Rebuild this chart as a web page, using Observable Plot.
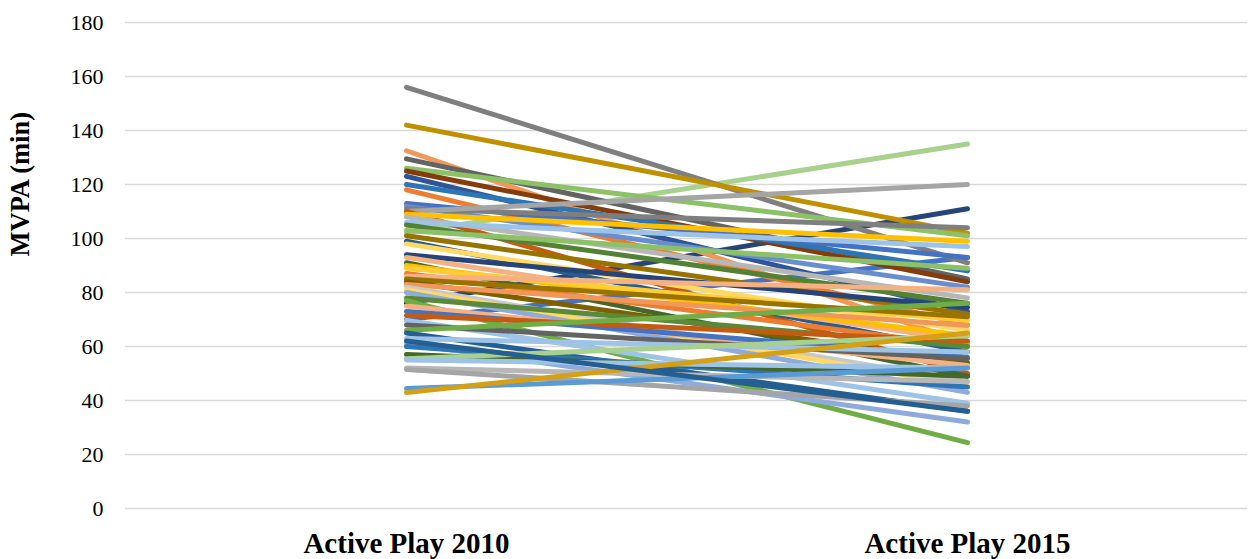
<!DOCTYPE html>
<html>
<head>
<meta charset="utf-8">
<script src="https://cdn.jsdelivr.net/npm/d3@7"></script>
<script src="https://cdn.jsdelivr.net/npm/@observablehq/plot@0.6"></script>
<style>
  html, body { margin: 0; padding: 0; background: #fff; }
  #chart { width: 1253px; height: 559px; }
</style>
</head>
<body>
<div id="chart"></div>
<script>
const categories = ["Active Play 2010", "Active Play 2015"];
const yTicks = [0, 20, 40, 60, 80, 100, 120, 140, 160, 180];

// MVPA minutes per participant
const active2010 = [76, 70, 102, 156, 142, 132.5, 129.5, 126, 125, 123, 120, 118, 113, 112, 111, 110, 110, 109, 108, 106, 105,
  103, 101, 99, 98, 94, 93, 91, 90, 89, 87, 86, 85, 84, 83, 82, 81, 80, 78, 77, 75, 73, 71.5,
  69.6, 68, 66, 65, 63, 61, 60, 57, 55.5, 55, 52, 51.5, 44.4, 43, 62];
const active2015 = [111, 93, 135, 91, 102, 61, 85, 101, 84, 73, 88, 68, 93, 82, 104, 120, 50, 99, 78, 97, 76,
  89, 72, 58, 66, 74.5, 62, 49, 64, 69.6, 60, 81, 71, 54, 67.8, 47, 45.5, 43, 60, 24.4, 53, 56, 62,
  39, 55.5, 76, 36, 58, 32, 45, 49, 64, 52, 47, 38, 52, 65, 36];

const palette = ["#264478", "#4472C4", "#A9D18E", "#7F7F7F", "#BF9000", "#F1975A", "#636363", "#8CC168", "#843C0C", "#2F5597", "#2E75B6", "#ED7D31",
  "#4472C4", "#698ED0", "#7F7F7F", "#A5A5A5", "#C55A11", "#FFC000", "#B7B7B7", "#9DC3E6", "#548235",
  "#8CC168", "#997300", "#255E91", "#FFD966", "#264478", "#F4B183", "#43682B", "#FFC000", "#FFCD33",
  "#ED7D31", "#F4B183", "#997300", "#7F6000", "#F1975A", "#C9C9C9", "#FFD966", "#8FAADC", "#5A8A39", "#70AD47",
  "#F4B183", "#4472C4", "#C55A11", "#9DC3E6", "#636363", "#70AD47", "#255E91", "#9DC3E6",
  "#8FAADC", "#2E75B6", "#43682B", "#A9D18E", "#9DC3E6", "#B7B7B7", "#A5A5A5", "#5B9BD5", "#D4A017", "#255E91"];

const ids = active2010.map((_, i) => i);
const rows = [];
ids.forEach(i => {
  rows.push({id: i, cat: categories[0], v: active2010[i]});
  rows.push({id: i, cat: categories[1], v: active2015[i]});
});

const chart = Plot.plot({
  width: 1253,
  height: 559,
  marginTop: 22,
  marginBottom: 51,
  marginLeft: 125,
  marginRight: 6,
  style: {fontFamily: "'Liberation Serif', 'Times New Roman', serif", background: "#fff", color: "#000"},
  x: {type: "point", domain: categories, padding: 0.5, label: null},
  y: {domain: [0, 180], ticks: yTicks, label: null},
  color: {type: "ordinal", domain: ids, range: palette},
  marks: [
    Plot.gridY(yTicks, {stroke: "#D9D9D9", strokeOpacity: 1, strokeWidth: 1.5}),
    Plot.axisY(yTicks, {tickSize: 0, tickPadding: 22, fontSize: 22, label: null, tickFormat: d => d}),
    Plot.axisX(categories, {tickSize: 0, tickPadding: 24, fontSize: 29, fontWeight: "bold", label: null}),
    Plot.text(["MVPA (min)"], {frameAnchor: "left", dx: -105, dy: -9, rotate: -90, fontSize: 26.5, fontWeight: "bold"}),
    Plot.line(rows, {x: "cat", y: "v", z: "id", stroke: "id", strokeWidth: 5, strokeLinecap: "round", strokeLinejoin: "round"})
  ]
});
document.getElementById("chart").appendChild(chart);
</script>
</body>
</html>
